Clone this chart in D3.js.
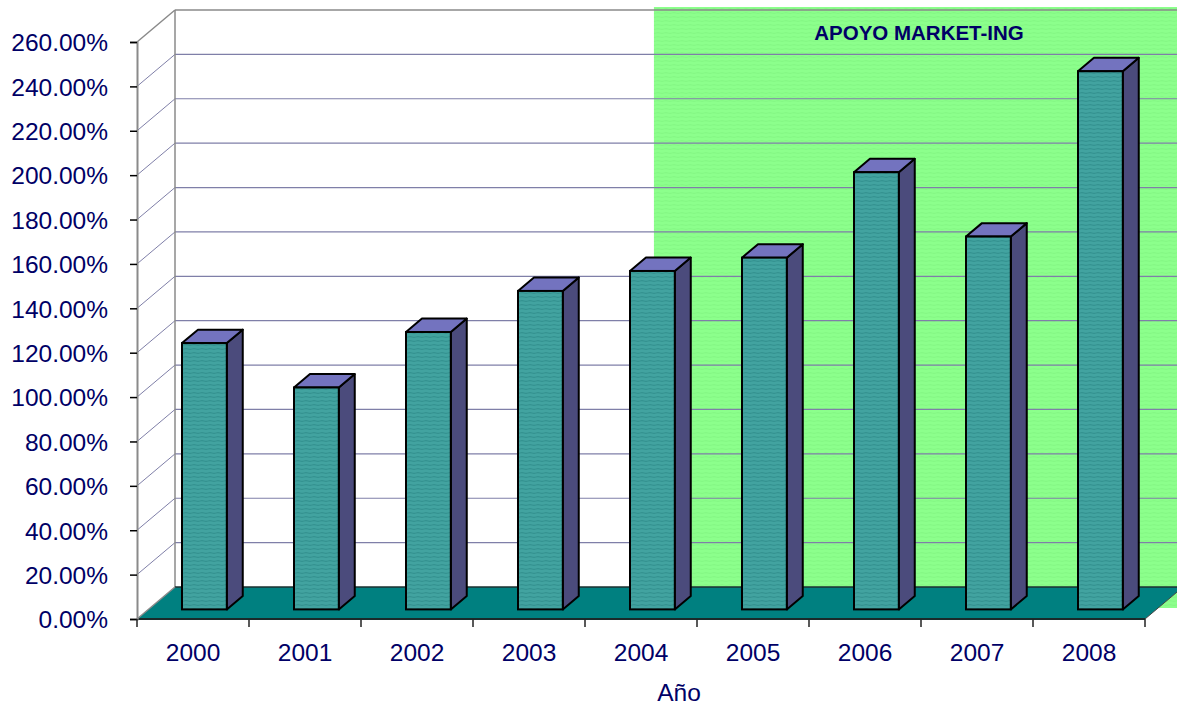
<!DOCTYPE html>
<html>
<head>
<meta charset="utf-8">
<script src="https://cdn.jsdelivr.net/npm/d3@7"></script>
<style>
  html, body { margin: 0; padding: 0; background: #ffffff; }
  svg { display: block; }
  text { font-family: Arial, "Liberation Sans", sans-serif; fill: #000066; }
</style>
</head>
<body>
<svg id="chart" width="1177" height="706"></svg>
<script>
// ---- data ----
const categories = ["2000", "2001", "2002", "2003", "2004", "2005", "2006", "2007", "2008"];
const values = [120, 100, 125, 143.5, 152.5, 158.5, 197, 168, 242.5];
const yTicks = [0, 20, 40, 60, 80, 100, 120, 140, 160, 180, 200, 220, 240, 260];
const highlightStart = "2004";
const highlightLabel = "APOYO MARKET-ING";
const xTitle = "Año";

// ---- layout ----
const W = 1177, H = 706;
const left = 137, right = 1145, y0 = 619, yTop = 42;
const depthX = 38, depthY = -32;      // full depth offset of the walls
const zFront = 0.3, zBack = 0.72;       // bar depth position

const svg = d3.select("#chart");

const x = d3.scaleBand().domain(categories).range([left, right])
  .paddingInner(0.6).paddingOuter(0.3);
const y = d3.scaleLinear().domain([0, 260]).range([y0, yTop]);
const step = x.step();

function P(px, py, z) { return [px + depthX * z, py + depthY * z]; }
const pts = a => a.map(p => p.join(",")).join(" ");

// ---- defs / patterns ----
const defs = svg.append("defs");
const pf = defs.append("pattern").attr("id", "barFront").attr("patternUnits", "userSpaceOnUse")
  .attr("width", 8).attr("height", 4);
pf.append("rect").attr("width", 8).attr("height", 4).attr("fill", "#42a3a0");
pf.append("path").attr("d", "M0,1 Q2,0.4 4,1 T8,1").attr("stroke", "#33918f").attr("stroke-width", 1.2).attr("fill", "none");

const pg = defs.append("pattern").attr("id", "greenBg").attr("patternUnits", "userSpaceOnUse")
  .attr("width", 8).attr("height", 4);
pg.append("rect").attr("width", 8).attr("height", 4).attr("fill", "#8cff8c");
pg.append("path").attr("d", "M0,1 Q2,0.4 4,1 T8,1").attr("stroke", "#84f884").attr("stroke-width", 1.2).attr("fill", "none");

// ---- highlight region (back wall) ----
const greenLeft = P(x(highlightStart) + x.bandwidth() / 2, 0, zFront + 0.04)[0];
svg.append("rect")
  .attr("x", greenLeft).attr("y", 7)
  .attr("width", W - greenLeft).attr("height", 608 - 7)
  .attr("fill", "url(#greenBg)");

// ---- gridlines on back wall and left wall ----
const grid = svg.append("g");
yTicks.forEach(t => {
  const fy = y(t);
  const [bx, by] = P(left, fy, 1);
  if (t !== 0 && t !== 260) {
    grid.append("line").attr("x1", bx).attr("y1", by).attr("x2", W).attr("y2", by)
      .attr("stroke", "#7f7fa8").attr("stroke-width", 1.2);
    grid.append("line").attr("x1", left).attr("y1", fy).attr("x2", bx).attr("y2", by)
      .attr("stroke", "#7f7fa8").attr("stroke-width", 1);
  }
});
// wall frame
const topBack = P(left, y(260), 1);
const botBack = P(left, y(0), 1);
grid.append("line").attr("x1", topBack[0]).attr("y1", topBack[1]).attr("x2", W).attr("y2", topBack[1])
  .attr("stroke", "#8a8a8a").attr("stroke-width", 1.5);
grid.append("line").attr("x1", topBack[0]).attr("y1", topBack[1]).attr("x2", botBack[0]).attr("y2", botBack[1])
  .attr("stroke", "#8a8a8a").attr("stroke-width", 1.5);
grid.append("line").attr("x1", left).attr("y1", y(260)).attr("x2", topBack[0]).attr("y2", topBack[1])
  .attr("stroke", "#8a8a8a").attr("stroke-width", 1.5);

// ---- floor ----
const floorPts = [P(left, y0, 0), P(right, y0, 0), P(right, y0, 1), P(left, y0, 1)];
svg.append("polygon").attr("points", pts(floorPts)).attr("fill", "#008080");
svg.append("line").attr("x1", floorPts[3][0]).attr("y1", floorPts[3][1]).attr("x2", W).attr("y2", floorPts[3][1])
  .attr("stroke", "#1a3030").attr("stroke-width", 1.5);
svg.append("line").attr("x1", floorPts[0][0]).attr("y1", floorPts[0][1]).attr("x2", floorPts[1][0]).attr("y2", floorPts[1][1])
  .attr("stroke", "#1a2a2a").attr("stroke-width", 2);
svg.append("line").attr("x1", floorPts[1][0]).attr("y1", floorPts[1][1]).attr("x2", floorPts[2][0]).attr("y2", floorPts[2][1])
  .attr("stroke", "#444").attr("stroke-width", 1);
svg.append("line").attr("x1", floorPts[0][0]).attr("y1", floorPts[0][1]).attr("x2", floorPts[3][0]).attr("y2", floorPts[3][1])
  .attr("stroke", "#8a8a8a").attr("stroke-width", 1.5);

// ---- left axis ----
const yAxis = d3.axisLeft(y).tickValues(yTicks).tickSize(7).tickPadding(22)
  .tickFormat(d => d.toFixed(2) + "%");
const ya = svg.append("g").attr("transform", `translate(${left},0)`).call(yAxis);
ya.select(".domain").attr("stroke", "#8a8a8a").attr("stroke-width", 2);
ya.selectAll(".tick line").attr("stroke", "#000").attr("stroke-width", 1.5);
ya.selectAll(".tick text").attr("font-size", 24.5).attr("fill", "#000066")
  .attr("font-family", "Arial, 'Liberation Sans', sans-serif").attr("dy", "0.36em");

// ---- bottom axis ----
const xa = svg.append("g").attr("transform", `translate(0,${y0})`)
  .call(d3.axisBottom(x).tickSize(0).tickPadding(25));
xa.select(".domain").remove();
xa.selectAll(".tick text").attr("font-size", 24.5).attr("fill", "#000066")
  .attr("font-family", "Arial, 'Liberation Sans', sans-serif");
// category boundary ticks
const bounds = categories.map(c => x(c) - step * 0.3).concat([right]);
svg.append("g").selectAll("line").data(bounds).join("line")
  .attr("x1", d => d).attr("x2", d => d).attr("y1", y0).attr("y2", y0 + 8)
  .attr("stroke", "#222").attr("stroke-width", 1.5);

// ---- bars ----
const bars = svg.append("g").selectAll("g").data(categories.map((c, i) => ({ c, v: values[i] }))).join("g");
bars.each(function (d) {
  const g = d3.select(this);
  const xl = x(d.c), xr = x(d.c) + x.bandwidth();
  const yv = y(d.v), yb = y(0);
  g.append("polygon").attr("points", pts([P(xr, yv, zFront), P(xr, yv, zBack), P(xr, yb, zBack), P(xr, yb, zFront)]))
    .attr("fill", "#4b4b7c").attr("stroke", "#000").attr("stroke-width", 2).attr("stroke-linejoin", "round");
  g.append("polygon").attr("points", pts([P(xl, yv, zFront), P(xr, yv, zFront), P(xr, yv, zBack), P(xl, yv, zBack)]))
    .attr("fill", "#7373bf").attr("stroke", "#000").attr("stroke-width", 2).attr("stroke-linejoin", "round");
  const f = P(xl, yv, zFront);
  g.append("rect").attr("x", f[0]).attr("y", f[1]).attr("width", xr - xl).attr("height", yb - yv)
    .attr("fill", "url(#barFront)").attr("stroke", "#000").attr("stroke-width", 2);
});

// ---- texts ----
svg.append("text").attr("x", 919).attr("y", 39.5).attr("text-anchor", "middle")
  .attr("font-size", 20.5).attr("font-weight", "bold").text(highlightLabel);
svg.append("text").attr("x", 679).attr("y", 701).attr("text-anchor", "middle")
  .attr("font-size", 24.5).text(xTitle);
</script>
</body>
</html>
